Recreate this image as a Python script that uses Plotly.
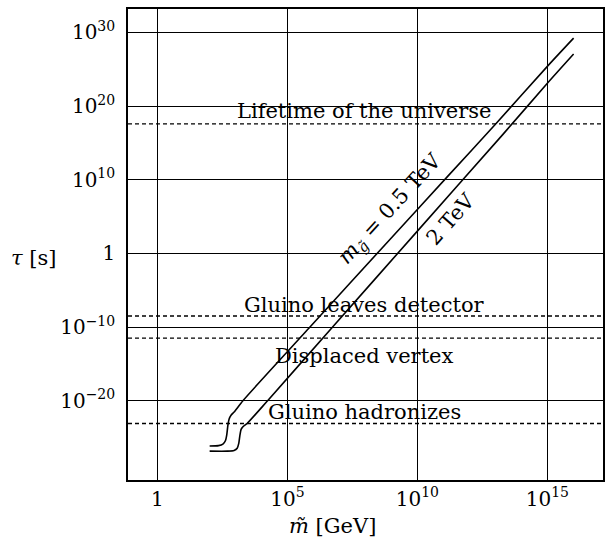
import numpy as np
import plotly.graph_objects as go

# Gluino lifetime vs. scalar mass scale, for two gluino masses.
# Values are given as log10 of m~ [GeV] and log10 of tau [s].
log10_m_05 = [2.01, 2.35, 2.52, 2.62, 2.67, 2.71, 2.76, 2.84, 2.95,
              3.29, 5.87, 8.97, 11.2, 13.02, 15.0, 16.01]
log10_tau_05 = [-26.15, -26.1, -25.9, -25.4, -24.6, -23.4, -22.5, -21.95, -21.55,
                -20.0, -10.0, 2.0, 10.6, 17.6, 25.4, 29.23]

log10_m_2 = [2.01, 2.7, 2.95, 3.07, 3.13, 3.17, 3.22, 3.3, 3.45,
             4.24, 6.74, 10.0, 13.3, 15.0, 16.01]
log10_tau_2 = [-26.85, -26.85, -26.75, -26.45, -25.8, -24.8, -23.9, -23.5, -23.1,
               -20.0, -10.0, 3.03, 16.2, 23.1, 27.07]

# Reference time scales (log10 of tau [s])
ref_names = ["Lifetime of the universe", "Gluino leaves detector",
             "Displaced vertex", "Gluino hadronizes"]
ref_log10_tau = [17.6, -8.5, -11.5, -23.1]
ref_label_log10_tau = [19.3, -6.95, -13.93, -21.58]
ref_label_log10_m = 7.96

# Axis ticks
x_tickvals = [1, 1e5, 1e10, 1e15]
x_ticktext = ["1", "10<sup>5</sup>", "10<sup>10</sup>", "10<sup>15</sup>"]
y_tickvals = [1e-20, 1e-10, 1, 1e10, 1e20, 1e30]
y_ticktext = ["10<sup>−20</sup>", "10<sup>−10</sup>", "1",
              "10<sup>10</sup>", "10<sup>20</sup>", "10<sup>30</sup>"]

x_range = [-1.13, 17.14]
y_range = [-30.77, 33.19]

SERIF = "DejaVu Serif"

fig = go.Figure()

# Horizontal dashed reference lines spanning the full x range
for lt in ref_log10_tau:
    fig.add_trace(go.Scatter(
        x=[10 ** x_range[0], 10 ** x_range[1]], y=[10 ** lt, 10 ** lt],
        mode="lines", line=dict(color="black", width=1.3, dash="4px,3px"),
        hoverinfo="skip", showlegend=False))

# Lifetime curves
for lm, lt in [(log10_m_05, log10_tau_05), (log10_m_2, log10_tau_2)]:
    fig.add_trace(go.Scatter(
        x=10 ** np.array(lm), y=10 ** np.array(lt),
        mode="lines", line=dict(color="black", width=1.6, shape="spline", smoothing=0.6),
        showlegend=False))

annotations = []
for name, ly in zip(ref_names, ref_label_log10_tau):
    annotations.append(dict(
        x=ref_label_log10_m, y=ly, xref="x", yref="y", text=name,
        showarrow=False, xanchor="center", yanchor="middle",
        font=dict(family=SERIF, size=21, color="black")))

# Curve labels along the lines
annotations.append(dict(
    x=8.97, y=5.99, xref="x", yref="y",
    text="<i>m</i><sub><i>g̃</i></sub> = 0.5 TeV", textangle=-47.5,
    showarrow=False, xanchor="center", yanchor="middle",
    font=dict(family=SERIF, size=21, color="black")))
annotations.append(dict(
    x=11.28, y=4.7, xref="x", yref="y",
    text="2 TeV", textangle=-48.5,
    showarrow=False, xanchor="center", yanchor="middle",
    font=dict(family=SERIF, size=21, color="black")))

# Axis titles
annotations.append(dict(
    x=-0.198, y=0.4715, xref="paper", yref="paper", text="<i>τ</i> [s]",
    showarrow=False, xanchor="center", yanchor="middle",
    font=dict(family=SERIF, size=21, color="black")))
annotations.append(dict(
    x=0.4305, y=-0.0973, xref="paper", yref="paper", text="<i>m̃</i> [GeV]",
    showarrow=False, xanchor="center", yanchor="middle",
    font=dict(family=SERIF, size=21, color="black")))

axis_common = dict(
    type="log", showline=True, mirror=True, linecolor="black", linewidth=1.6,
    showgrid=True, gridcolor="black", gridwidth=1.3, zeroline=False,
    ticks="", tickfont=dict(family=SERIF, size=20, color="black"))

fig.update_layout(
    width=616, height=541,
    margin=dict(l=128, r=13, t=7, b=61),
    paper_bgcolor="white", plot_bgcolor="white",
    xaxis=dict(range=x_range, tickvals=x_tickvals, ticktext=x_ticktext,
               ticklabelstandoff=0, **axis_common),
    yaxis=dict(range=y_range, tickvals=y_tickvals, ticktext=y_ticktext,
               ticklabelstandoff=7, **axis_common),
    annotations=annotations,
    showlegend=False,
)

fig.write_html("out.html")
